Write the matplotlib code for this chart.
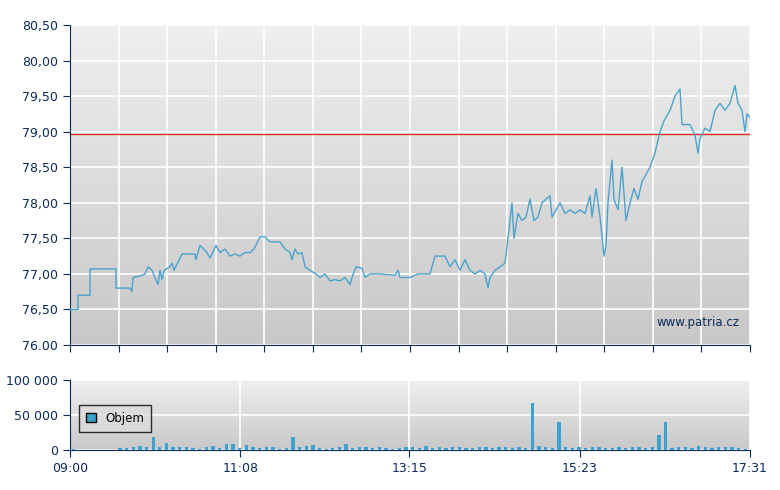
import matplotlib
matplotlib.use("Agg")
import matplotlib.pyplot as plt
import numpy as np
from matplotlib.colors import LinearSegmentedColormap
from matplotlib.patches import Patch

# price trace sampled at chart x-pixel positions (converted to minutes below)
px = [70,78,78,90,90,116,116,130,132,133,140,145,148,152,158,160,162,164,170,172,174,182,195,196,200,207,210,216,220,225,230,235,240,245,250,254,260,265,270,280,285,290,292,295,298,302,305,310,316,320,325,330,335,340,345,350,352,356,362,365,370,380,395,398,400,410,418,430,435,445,450,455,460,465,470,475,480,485,488,490,495,500,505,508,512,514,518,522,526,530,534,538,542,546,550,552,556,560,565,570,575,580,585,590,592,596,600,604,606,608,612,614,618,622,626,630,634,638,642,646,650,655,660,664,670,675,680,682,690,695,698,700,705,710,715,720,725,730,735,738,742,745,747,750]
price = [76.50,76.50,76.70,76.70,77.07,77.07,76.80,76.80,76.75,76.95,76.97,77.00,77.10,77.05,76.85,77.05,76.92,77.05,77.10,77.15,77.05,77.28,77.28,77.20,77.40,77.30,77.22,77.40,77.30,77.35,77.25,77.28,77.25,77.30,77.30,77.35,77.52,77.52,77.45,77.45,77.35,77.30,77.20,77.35,77.28,77.30,77.10,77.05,77.00,76.95,77.00,76.90,76.92,76.90,76.95,76.85,76.95,77.10,77.08,76.95,77.00,77.00,76.98,77.05,76.95,76.95,77.00,77.00,77.25,77.25,77.10,77.20,77.05,77.20,77.05,77.00,77.05,77.00,76.80,76.95,77.05,77.10,77.15,77.50,78.00,77.50,77.85,77.75,77.80,78.05,77.75,77.80,78.00,78.05,78.10,77.80,77.90,78.00,77.85,77.90,77.85,77.90,77.85,78.10,77.80,78.20,77.80,77.25,77.40,78.00,78.60,78.05,77.90,78.50,77.75,78.00,78.20,78.05,78.30,78.40,78.50,78.70,79.00,79.15,79.30,79.50,79.60,79.10,79.10,78.95,78.70,78.90,79.05,79.00,79.30,79.40,79.30,79.40,79.65,79.40,79.30,79.00,79.25,79.20]
ref_price = 78.97

# volume in 5-minute bins from 09:00 (thousands)
vol_k = ([2,0,0,0,0,0,0,3,3,5,6,4] + [18] +
         [5,10,4,5,4,3,2,4,6,3,8,9,3,7,5,3,4,5,2,3] + [18] +
         [4,6,7,3,2,3,4,9,3,5,4,3,4,3,2,3,5,4,3,6,3,4,3,5,4,3,3,5,4,3,4,4,3,5,3] + [67] +
         [6,4,3] + [40] + [5,3,4,3,4,5,3,3,4,3,5,4,3,4] + [22, 40] +
         [3,4,5,3,6,4,3,5,5,4,3,2])

x_labels = ["09:00", "11:08", "13:15", "15:23", "17:31"]

minutes = (np.array(px) - 70) / 680 * 511
vol_t = np.arange(len(vol_k)) * 5 + 2.5
vol = np.array(vol_k) * 1000
navy = "#0a2a5a"
line_c = "#4aa3cc"

fig = plt.figure(figsize=(7.8, 4.9), dpi=100)
L, W = 70/780, 680/780
ax = fig.add_axes([L, 145/490, W, 320/490])
av = fig.add_axes([L, 40/490, W, 70/490])

grad = np.linspace(0, 1, 256).reshape(-1, 1)
cmap = LinearSegmentedColormap.from_list("g", ["#efefef", "#c8c8c8"])
for a in (ax, av):
    a.imshow(grad, aspect="auto", cmap=cmap, extent=[0, 1, 0, 1], transform=a.transAxes, zorder=0)
    for s in ("top", "right"):
        a.spines[s].set_visible(False)
    for s in ("left", "bottom"):
        a.spines[s].set_color(navy)
    a.tick_params(colors=navy, labelcolor=navy, direction="out", length=5, labelsize=9)
    a.set_xlim(0, 511)

ax.plot(minutes, price, color=line_c, lw=1.0, zorder=3)
ax.axhline(ref_price, color="#e03020", lw=1, zorder=2)
ax.set_ylim(76, 80.5)
yt = np.arange(76, 80.51, 0.5)
ax.set_yticks(yt)
ax.set_yticklabels([("%.2f" % v).replace(".", ",") if i else "76.00" for i, v in enumerate(yt)])
ax.set_xticks(np.linspace(0, 511, 15))
ax.set_xticklabels([])
ax.grid(True, color="white", lw=1.2, zorder=1)
ax.text(0.985, 0.05, "www.patria.cz", transform=ax.transAxes, ha="right", va="bottom", color=navy, fontsize=8.5, zorder=4)

av.bar(vol_t, vol, width=2.5, color="#3fa3cf", zorder=3)
av.set_ylim(0, 100000)
av.set_yticks([0, 50000, 100000])
av.set_yticklabels(["0", "50 000", "100 000"])
av.set_xticks([0, 128, 255, 383, 511])
av.set_xticklabels(x_labels)
av.grid(True, color="white", lw=1.2, zorder=1)
leg = av.legend(handles=[Patch(facecolor="#3fa3cf", edgecolor="black", label="Objem")],
                loc="center left", bbox_to_anchor=(0.005, 0.45), frameon=True, fancybox=False,
                fontsize=8.5, handlelength=0.8, handleheight=0.8, borderpad=0.6)
leg.get_frame().set_edgecolor("black")
leg.get_frame().set_facecolor("#dcdcdc")

fig.savefig("out.png", dpi=100)
